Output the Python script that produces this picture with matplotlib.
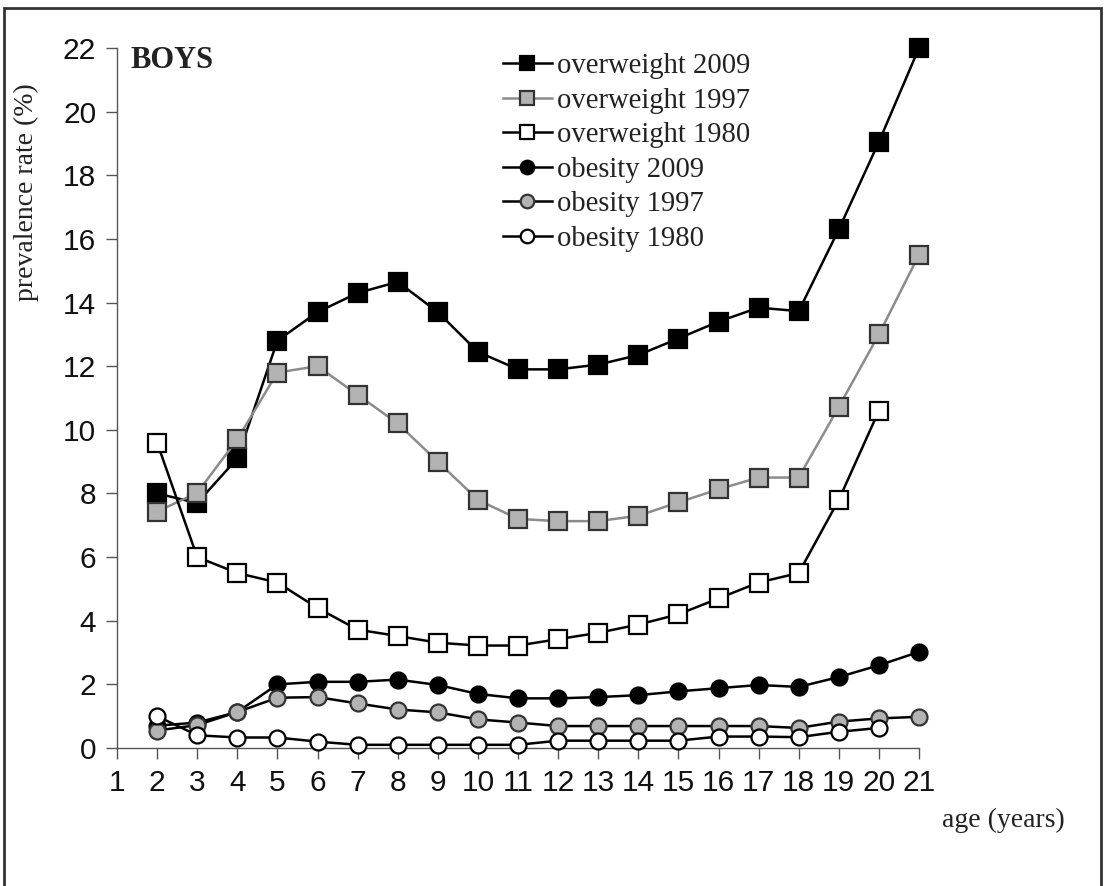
import matplotlib
matplotlib.use("Agg")
import matplotlib.pyplot as plt
from matplotlib.patches import Rectangle

# ages (years)
age = list(range(2, 22))

# prevalence rate (%)
overweight_2009 = [8.0, 7.7, 9.1, 12.8, 13.7, 14.3, 14.65, 13.7, 12.45, 11.9,
                   11.9, 12.05, 12.35, 12.87, 13.4, 13.84, 13.73, 16.3, 19.05, 22.0]
overweight_1997 = [7.43, 8.02, 9.7, 11.8, 12.0, 11.1, 10.2, 9.0, 7.8, 7.2,
                   7.13, 7.13, 7.3, 7.72, 8.13, 8.5, 8.5, 10.72, 13.0, 15.5]
overweight_1980 = [9.6, 6.0, 5.5, 5.2, 4.4, 3.72, 3.52, 3.31, 3.22, 3.22,
                   3.42, 3.62, 3.88, 4.2, 4.7, 5.2, 5.5, 7.8, 10.6]
obesity_2009 = [0.7, 0.8, 1.13, 2.0, 2.08, 2.08, 2.15, 1.98, 1.7, 1.56,
                1.56, 1.6, 1.66, 1.78, 1.88, 1.98, 1.92, 2.23, 2.6, 3.02]
obesity_1997 = [0.55, 0.72, 1.13, 1.58, 1.6, 1.4, 1.21, 1.12, 0.9, 0.8,
                0.69, 0.69, 0.69, 0.69, 0.69, 0.69, 0.63, 0.83, 0.93, 0.98]
obesity_1980 = [1.0, 0.4, 0.33, 0.33, 0.2, 0.1, 0.1, 0.1, 0.1, 0.1,
                0.23, 0.23, 0.23, 0.23, 0.36, 0.36, 0.34, 0.51, 0.63]

series = [
    ("overweight 2009", overweight_2009, "s", "black", "black", "black"),
    ("overweight 1997", overweight_1997, "s", "#8c8c8c", "#b3b3b3", "#333333"),
    ("overweight 1980", overweight_1980, "s", "black", "white", "black"),
    ("obesity 2009", obesity_2009, "o", "black", "black", "black"),
    ("obesity 1997", obesity_1997, "o", "black", "#b3b3b3", "#333333"),
    ("obesity 1980", obesity_1980, "o", "black", "white", "black"),
]

serif = ["Liberation Serif", "DejaVu Serif"]

fig = plt.figure(figsize=(11.07, 8.86), dpi=100)
ax = fig.add_axes([117 / 1107, 1 - 748 / 886, (919 - 117) / 1107, (748 - 48) / 886])

for label, vals, mk, lc, fc, ec in series:
    ms = 12.5 if mk == "s" else 11.5
    ax.plot(age[:len(vals)], vals, marker=mk, color=lc, markerfacecolor=fc,
            markeredgecolor=ec, markeredgewidth=1.6, markersize=ms,
            linewidth=1.8, label=label, clip_on=False, zorder=3)

ax.set_xlim(1, 21)
ax.set_ylim(0, 22)
ax.set_xticks(range(1, 22))
ax.set_yticks(range(0, 23, 2))
for s in ["top", "right"]:
    ax.spines[s].set_visible(False)
for s in ["left", "bottom"]:
    ax.spines[s].set_color("#555555")
    ax.spines[s].set_linewidth(1.0)
ax.tick_params(axis="both", direction="out", length=8, width=1.0,
               color="#555555", labelsize=21.5, labelcolor="#111111",
               labelfontfamily="Liberation Sans")
ax.tick_params(axis="y", pad=7)
ax.tick_params(axis="x", pad=7)

leg = ax.legend(loc="upper left", bbox_to_anchor=(503 / 1107, 1 - 53 / 886),
                bbox_transform=fig.transFigure, frameon=False,
                prop={"family": serif, "size": 20.6}, handlelength=1.7,
                handletextpad=0.17, labelspacing=0.3, borderpad=0,
                borderaxespad=0, markerscale=0.85)
for t in leg.get_texts():
    t.set_color("#222222")

fig.text(130 / 1107, 1 - 60 / 886, "BOYS", family=serif, fontsize=22,
         fontweight="bold", color="#222222", va="center", ha="left")
fig.text(26 / 1107, 1 - 192 / 886, "prevalence rate (%)", family=serif,
         fontsize=20, color="#222222", rotation=90, va="center", ha="center")
fig.text(1003 / 1107, 1 - 820 / 886, "age (years)", family=serif,
         fontsize=20, color="#222222", va="center", ha="center")

# frame around the whole figure
fig.patches.append(Rectangle((4 / 1107, -0.05), 1097 / 1107, 1.05 - 8 / 886,
                             transform=fig.transFigure, fill=False,
                             edgecolor="#333333", linewidth=2))

fig.savefig("out.png", dpi=100)
